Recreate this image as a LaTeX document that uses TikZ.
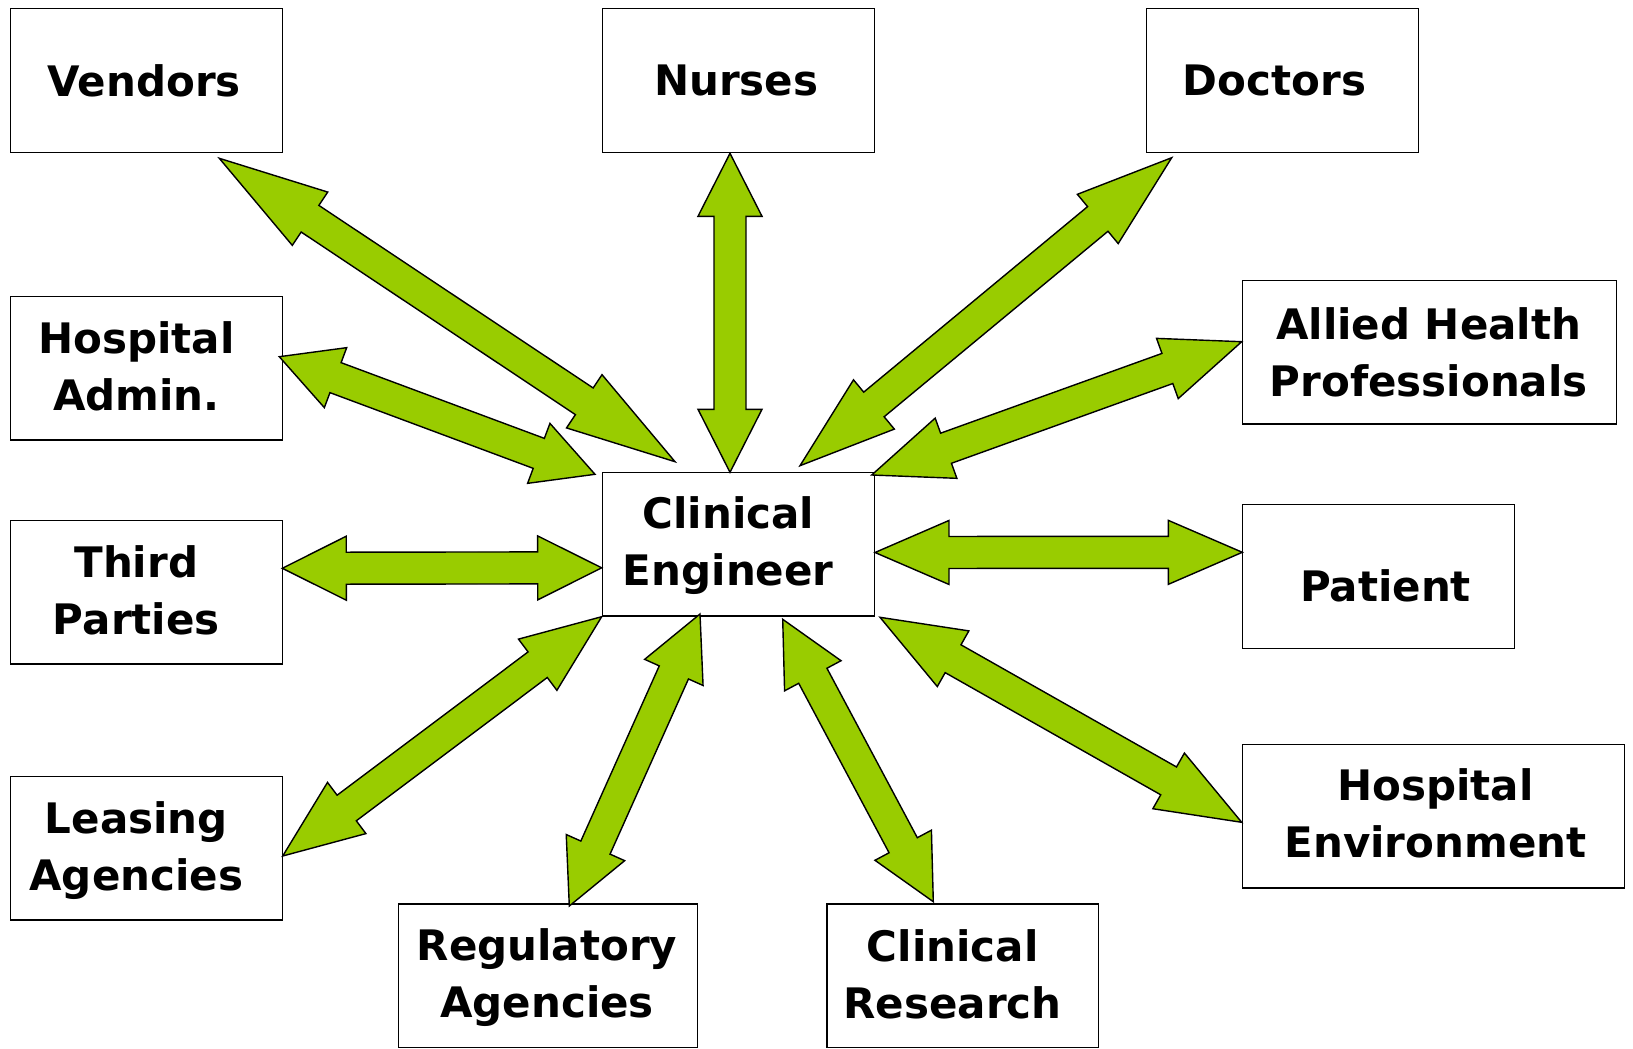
\documentclass[tikz,border=0pt]{standalone}
\usepackage{fontspec}
\setmainfont{DejaVu Sans}
\usetikzlibrary{calc,positioning}
\definecolor{leaf}{HTML}{99CC00}

% double block arrow: [head length] from tip #2 to tip #3
\newcommand\dblarrow[3][64]{%
\draw[blk] (#2)
  -- ($(#2)!#1pt!(#3)!32pt!90:(#3)$) -- ($(#2)!#1pt!(#3)!16pt!90:(#3)$)
  -- ($(#3)!#1pt!(#2)!16pt!-90:(#2)$) -- ($(#3)!#1pt!(#2)!32pt!-90:(#2)$)
  -- (#3)
  -- ($(#3)!#1pt!(#2)!32pt!90:(#2)$) -- ($(#3)!#1pt!(#2)!16pt!90:(#2)$)
  -- ($(#2)!#1pt!(#3)!16pt!-90:(#3)$) -- ($(#2)!#1pt!(#3)!32pt!-90:(#3)$)
  -- cycle;}

\begin{document}
\begin{tikzpicture}[x=1pt,y=-1pt,
  box/.style={draw,line width=1.4pt,minimum width=272pt,minimum height=143.5pt,inner sep=0pt},
  lbl/.style={align=center,font=\fontsize{42}{57}\selectfont\bfseries},
  blk/.style={fill=leaf,draw=black,line width=1.4pt,line join=miter}]
\useasboundingbox (0,0) rectangle (1633,1049);
%boxes
\node[box] (vend) at (146.3,80.5) {};
\node[box] (nurse) at (738.3,80.5) {};
\node[box] (doc) at (1282.5,80.5) {};
\node[box] (hadm) at (146.3,368.2) {};
\node[box,minimum width=374pt] (allied) at (1429.7,352.3) {};
\node[box] (ce) at (738.3,544.2) {};
\node[box] (third) at (146.3,592.1) {};
\node[box] (patient) at (1378.5,576.5) {};
\node[box] (leas) at (146.3,848.3) {};
\node[box,minimum width=382pt] (env) at (1433.5,816.2) {};
\node[box,minimum width=299.5pt] (reg) at (548,975.6) {};
\node[box,minimum width=271.3pt] (res) at (962.7,975.6) {};
%labels
\node[lbl] (vend-l) at ([xshift=-2pt]vend.center) {Vendors};
\node[lbl] (nurse-l) at ([xshift=-2pt]nurse.center) {Nurses};
\node[lbl] (doc-l) at ([xshift=-8pt]doc.center) {Doctors};
\node[lbl] (hadm-l) at ([xshift=-10pt,yshift=2pt]hadm.center) {Hospital\\Admin.};
\node[lbl] (allied-l) at ([xshift=-1pt]allied.center) {Allied Health\\Professionals};
\node[lbl] (ce-l) at ([xshift=-10pt,yshift=-1pt]ce.center) {Clinical\\Engineer};
\node[lbl] (third-l) at ([xshift=-10pt,yshift=2pt]third.center) {Third\\Parties};
\node[lbl] (patient-l) at ([xshift=7pt,yshift=-9pt]patient.center) {Patient};
\node[lbl] (leas-l) at ([xshift=-10pt,yshift=-2pt]leas.center) {Leasing\\Agencies};
\node[lbl] (env-l) at ([xshift=2pt,yshift=3pt]env.center) {Hospital\\Environment};
\node[lbl] (reg-l) at ([xshift=-1pt,yshift=-2pt]reg.center) {Regulatory\\Agencies};
\node[lbl] (res-l) at ([xshift=-10pt,yshift=1pt]res.center) {Clinical\\Research};
%arrow tips
\coordinate (vend-a) at (219.3,158.3);   \coordinate (ce-vend) at (675,461.7);
\coordinate (nurse-a) at (730,153.3);    \coordinate (ce-nurse) at (730,472.3);
\coordinate (doc-a) at (1171.7,157.7);   \coordinate (ce-doc) at (800,465.7);
\coordinate (hadm-a) at (279.3,356.7);   \coordinate (ce-hadm) at (595,474.3);
\coordinate (allied-a) at (1241.7,341.7);\coordinate (ce-allied) at (871.7,475);
\coordinate (third-a) at (282.3,568.3);  \coordinate (ce-third) at (601.7,567.8);
\coordinate (patient-a) at (1242.3,552.3);\coordinate (ce-patient) at (875,552.5);
\coordinate (leas-a) at (282.7,856);     \coordinate (ce-leas) at (601.7,616.7);
\coordinate (reg-a) at (569.3,906);      \coordinate (ce-reg) at (700,614);
\coordinate (res-a) at (933.3,901.7);    \coordinate (ce-res) at (782.7,619.3);
\coordinate (env-a) at (1241.7,822.3);   \coordinate (ce-env) at (880,617.3);
%arrows
\dblarrow[109]{vend-a}{ce-vend}
\dblarrow[63]{nurse-a}{ce-nurse}
\dblarrow[96]{doc-a}{ce-doc}
\dblarrow[60]{hadm-a}{ce-hadm}
\dblarrow[79]{allied-a}{ce-allied}
\dblarrow[64]{third-a}{ce-third}
\dblarrow[74]{patient-a}{ce-patient}
\dblarrow[80]{leas-a}{ce-leas}
\dblarrow[64]{reg-a}{ce-reg}
\dblarrow[64]{res-a}{ce-res}
\dblarrow[84]{env-a}{ce-env}
\end{tikzpicture}
\end{document}
